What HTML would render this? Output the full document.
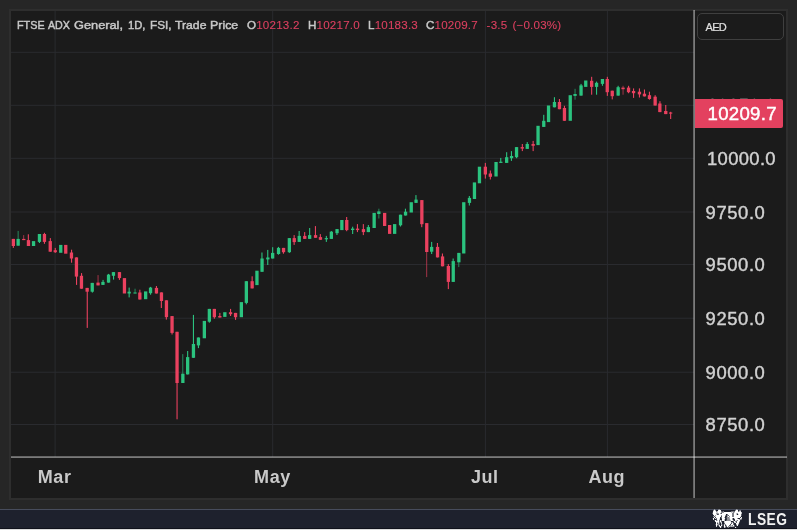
<!DOCTYPE html>
<html lang="en">
<head>
<meta charset="utf-8">
<title>FTSE ADX General</title>
<style>
html,body{margin:0;padding:0;}
body{width:797px;height:530px;overflow:hidden;background:#262626;position:relative;font-family:"Liberation Sans",sans-serif;}
#panel{position:absolute;left:9px;top:9px;width:774.9px;height:486.8px;background:#1b1b1b;border:2.1px solid #2e2e2e;border-bottom-width:2.7px;}
#chart{position:absolute;left:0;top:0;width:797px;height:530px;}
.hdr{position:absolute;top:16.5px;font-size:11.6px;letter-spacing:0.2px;line-height:16px;white-space:nowrap;color:#c8c8c8;-webkit-text-stroke:0.45px currentColor;}
.hdr .v{color:#dc4060;-webkit-text-stroke:0.1px #dc4060;}
.hdr .w{position:absolute;top:0;left:0;letter-spacing:0;transform-origin:0 0;display:block;}
.pl{position:absolute;left:707px;font-size:18.4px;letter-spacing:0.35px;line-height:22px;height:22px;color:#d2d2d2;white-space:nowrap;-webkit-text-stroke:0.4px currentColor;}
.pl.n{left:705.6px;letter-spacing:0.6px;}
#cur{position:absolute;left:694.7px;top:99.4px;width:88.5px;height:28.3px;background:#e3415f;border-radius:0 2px 2px 0;}
#cur span{position:absolute;left:12.8px;top:3.9px;font-size:18.6px;letter-spacing:0.3px;line-height:22px;color:#fff;white-space:nowrap;-webkit-text-stroke:0.45px #fff;}
#aed{position:absolute;left:696.6px;top:13.2px;width:85.2px;height:24.4px;border:1.4px solid #3f3f3f;border-radius:5px;}
#aed span{position:absolute;left:8px;top:6.3px;font-size:11px;letter-spacing:-0.7px;line-height:14px;color:#e0e0e0;-webkit-text-stroke:0.2px currentColor;}
.tl{position:absolute;top:466px;width:80px;margin-left:-40px;text-align:center;font-weight:bold;font-size:18px;letter-spacing:0.6px;line-height:22px;color:#c9c9c9;}
#foot{position:absolute;left:0;top:508.9px;width:797px;height:21px;background:#1e212d;border-top:1.2px solid #474c5c;box-sizing:border-box;}
#footline{position:absolute;left:0;top:527.6px;width:797px;height:3px;background:#dcdcdc;border-top:1.3px solid #10121b;box-sizing:border-box;}
#lseg{position:absolute;left:748.1px;top:509.5px;font-size:16px;line-height:19px;font-weight:bold;color:#f2f2f2;letter-spacing:0.6px;transform:scaleX(0.86);transform-origin:0 0;white-space:nowrap;}
</style>
</head>
<body>
<div id="panel"></div>
<svg id="chart" width="797" height="530" viewBox="0 0 797 530">
<g fill="#2a2b2f">
<rect x="11" y="51.8" width="683" height="1"/>
<rect x="11" y="104.8" width="683" height="1"/>
<rect x="11" y="157.8" width="683" height="1"/>
<rect x="11" y="211.5" width="683" height="1"/>
<rect x="11" y="264" width="683" height="1"/>
<rect x="11" y="317.7" width="683" height="1"/>
<rect x="11" y="371.7" width="683" height="1"/>
<rect x="11" y="424" width="683" height="1"/>
<rect x="54.6" y="11" width="1" height="446"/>
<rect x="272.2" y="11" width="1" height="446"/>
<rect x="484.9" y="11" width="1" height="446"/>
<rect x="606.9" y="11" width="1" height="446"/>
</g>
<g fill="#2bc37f">
<rect x="17.6" y="230.9" width="1.1" height="14.8" opacity="0.6"/>
<rect x="38.9" y="234" width="1.1" height="9"/>
<rect x="91.8" y="282.9" width="1.1" height="9.7"/>
<rect x="102.5" y="279.9" width="1.1" height="5"/>
<rect x="108" y="273.9" width="1.1" height="8.7"/>
<rect x="113" y="272.1" width="1.1" height="7.5"/>
<rect x="128.6" y="287.6" width="1.1" height="9.8"/>
<rect x="134.5" y="288.7" width="1.1" height="4.8" opacity="0.6"/>
<rect x="150" y="286.9" width="1.1" height="7.8"/>
<rect x="182.2" y="354.1" width="1.1" height="28.9" opacity="0.6"/>
<rect x="187.1" y="351" width="1.1" height="23.4"/>
<rect x="192.9" y="314.9" width="1.1" height="42.9"/>
<rect x="197.9" y="337.5" width="1.1" height="10.6"/>
<rect x="208.8" y="308.9" width="1.1" height="13.8"/>
<rect x="245.8" y="281.2" width="1.1" height="23.1"/>
<rect x="261.4" y="252.5" width="1.1" height="19.3"/>
<rect x="267.2" y="249.9" width="1.1" height="15.1"/>
<rect x="272.1" y="247.2" width="1.1" height="11.3"/>
<rect x="277.9" y="246.9" width="1.1" height="7.8"/>
<rect x="288.8" y="238.1" width="1.1" height="14.8"/>
<rect x="298.6" y="231" width="1.1" height="10.9"/>
<rect x="309.1" y="228" width="1.1" height="10.9"/>
<rect x="325.8" y="235.9" width="1.1" height="6"/>
<rect x="330.8" y="231" width="1.1" height="7.9"/>
<rect x="336.4" y="229.1" width="1.1" height="5.9"/>
<rect x="352.1" y="226.7" width="1.1" height="7.3"/>
<rect x="367.8" y="225" width="1.1" height="7.1"/>
<rect x="378.3" y="208.7" width="1.1" height="9.8" opacity="0.6"/>
<rect x="399.9" y="214.7" width="1.1" height="11.8"/>
<rect x="404.9" y="208.7" width="1.1" height="6.8"/>
<rect x="415.4" y="195.1" width="1.1" height="7.8"/>
<rect x="431.1" y="241.9" width="1.1" height="12.1"/>
<rect x="452.6" y="258.5" width="1.1" height="23.4"/>
<rect x="458.2" y="252.9" width="1.1" height="14.2" opacity="0.6"/>
<rect x="468.8" y="196" width="1.1" height="9.5"/>
<rect x="500.2" y="157.9" width="1.1" height="5"/>
<rect x="506.1" y="152.2" width="1.1" height="10.7"/>
<rect x="510.9" y="151.1" width="1.1" height="9.8"/>
<rect x="516" y="147.1" width="1.1" height="11.1"/>
<rect x="526.7" y="142.1" width="1.1" height="6.8"/>
<rect x="543.2" y="114.8" width="1.1" height="12.1"/>
<rect x="553.9" y="97.2" width="1.1" height="10.1"/>
<rect x="574.5" y="88.8" width="1.1" height="10.9" opacity="0.6"/>
<rect x="580.5" y="83.9" width="1.1" height="11.7"/>
<rect x="596" y="81.6" width="1.1" height="13.1"/>
<rect x="601.9" y="79" width="1.1" height="6.8"/>
<rect x="617.6" y="85.8" width="1.1" height="9.8"/>
<rect x="16.5" y="238.9" width="3.3" height="6.8"/>
<rect x="31.9" y="241.1" width="3.3" height="4.9"/>
<rect x="37.8" y="234" width="3.3" height="7.9"/>
<rect x="59.1" y="244.9" width="3.3" height="7.9"/>
<rect x="90.6" y="282.9" width="3.3" height="8.8"/>
<rect x="101.3" y="281.9" width="3.3" height="3"/>
<rect x="106.9" y="274.6" width="3.3" height="8"/>
<rect x="111.8" y="272.1" width="3.3" height="3.7"/>
<rect x="127.5" y="291.7" width="3.3" height="1.8"/>
<rect x="133.4" y="292.5" width="3.3" height="1"/>
<rect x="144" y="291.4" width="3.3" height="7.8"/>
<rect x="148.9" y="287.6" width="3.3" height="5.6"/>
<rect x="181.2" y="373.7" width="3.3" height="9.3"/>
<rect x="186" y="357.1" width="3.3" height="17.3"/>
<rect x="191.8" y="344" width="3.3" height="13.8"/>
<rect x="196.8" y="337.5" width="3.3" height="7.9"/>
<rect x="202.7" y="320.9" width="3.3" height="17.4"/>
<rect x="207.7" y="308.9" width="3.3" height="12.8"/>
<rect x="223.2" y="312.2" width="3.3" height="4.7"/>
<rect x="239.7" y="302.1" width="3.3" height="15.1"/>
<rect x="244.7" y="281.2" width="3.3" height="21.7"/>
<rect x="255.3" y="270.7" width="3.3" height="14.4"/>
<rect x="260.4" y="258.5" width="3.3" height="13.3"/>
<rect x="266.2" y="257.5" width="3.3" height="1.9"/>
<rect x="271" y="252.9" width="3.3" height="5.6"/>
<rect x="276.9" y="247.9" width="3.3" height="6.1"/>
<rect x="287.7" y="238.1" width="3.3" height="14.1"/>
<rect x="297.6" y="235.9" width="3.3" height="6"/>
<rect x="308" y="235.1" width="3.3" height="3.8"/>
<rect x="324.7" y="238.1" width="3.3" height="1.2"/>
<rect x="329.7" y="231.7" width="3.3" height="7.2"/>
<rect x="335.4" y="229.1" width="3.3" height="4.1"/>
<rect x="340.2" y="220" width="3.3" height="10.1"/>
<rect x="351" y="228.6" width="3.3" height="1.4"/>
<rect x="366.7" y="227.1" width="3.3" height="5"/>
<rect x="372.5" y="212.9" width="3.3" height="15.1"/>
<rect x="377.2" y="211.4" width="3.3" height="2.6"/>
<rect x="393" y="224.1" width="3.3" height="9.8"/>
<rect x="398.9" y="214.7" width="3.3" height="10.6"/>
<rect x="403.9" y="211.7" width="3.3" height="3.8"/>
<rect x="409.6" y="202.2" width="3.3" height="10.3"/>
<rect x="414.4" y="199.6" width="3.3" height="3.3"/>
<rect x="430" y="246.9" width="3.3" height="4.8"/>
<rect x="451.6" y="261.1" width="3.3" height="20.8"/>
<rect x="457.2" y="252.9" width="3.3" height="9.4"/>
<rect x="462.1" y="202.2" width="3.3" height="51.3"/>
<rect x="467.8" y="197.9" width="3.3" height="5"/>
<rect x="472.8" y="182.4" width="3.3" height="16.6"/>
<rect x="477.8" y="166.7" width="3.3" height="16.6"/>
<rect x="494.4" y="162" width="3.3" height="14.5"/>
<rect x="499.2" y="161.7" width="3.3" height="1.2"/>
<rect x="505" y="157.2" width="3.3" height="5.7"/>
<rect x="509.9" y="156" width="3.3" height="2.2"/>
<rect x="514.9" y="147.1" width="3.3" height="10.1"/>
<rect x="525.6" y="144" width="3.3" height="4.9"/>
<rect x="536.4" y="125.8" width="3.3" height="19.3"/>
<rect x="542.1" y="120.8" width="3.3" height="6.1"/>
<rect x="546.9" y="105.5" width="3.3" height="16.6"/>
<rect x="552.8" y="102" width="3.3" height="5.3"/>
<rect x="568.6" y="95.2" width="3.3" height="25.6"/>
<rect x="573.4" y="94" width="3.3" height="1.9"/>
<rect x="579.4" y="85.4" width="3.3" height="10.2"/>
<rect x="584.1" y="80.5" width="3.3" height="6.4"/>
<rect x="594.9" y="82.8" width="3.3" height="4.1"/>
<rect x="600.8" y="79" width="3.3" height="4.9"/>
<rect x="616.5" y="87.2" width="3.3" height="8.4"/>
</g>
<g fill="#ea415f">
<rect x="12.8" y="238.9" width="1.1" height="9"/>
<rect x="23.1" y="235.1" width="1.1" height="5" opacity="0.6"/>
<rect x="27.8" y="234.3" width="1.1" height="11.7"/>
<rect x="43.9" y="232.8" width="1.1" height="11"/>
<rect x="49.8" y="238.1" width="1.1" height="13.6"/>
<rect x="54.7" y="247.9" width="1.1" height="5"/>
<rect x="71" y="249.7" width="1.1" height="13"/>
<rect x="76" y="257.4" width="1.1" height="27.5"/>
<rect x="81" y="273.1" width="1.1" height="15.6"/>
<rect x="86.7" y="287.9" width="1.1" height="40"/>
<rect x="97.5" y="275.1" width="1.1" height="10.3" opacity="0.6"/>
<rect x="118.9" y="272.1" width="1.1" height="7.8"/>
<rect x="139.3" y="289.7" width="1.1" height="9.8"/>
<rect x="155.9" y="286" width="1.1" height="7.5"/>
<rect x="160.8" y="292.4" width="1.1" height="15.6"/>
<rect x="165.8" y="300.3" width="1.1" height="19.3"/>
<rect x="171.5" y="316.1" width="1.1" height="18.4"/>
<rect x="176.5" y="331.8" width="1.1" height="87.5"/>
<rect x="213.8" y="308.9" width="1.1" height="9.8"/>
<rect x="219.3" y="312.9" width="1.1" height="4.6"/>
<rect x="230" y="308.9" width="1.1" height="7.1"/>
<rect x="235" y="312.9" width="1.1" height="7"/>
<rect x="251.6" y="276.3" width="1.1" height="12.1"/>
<rect x="282.9" y="247.9" width="1.1" height="5.8"/>
<rect x="293.6" y="235.1" width="1.1" height="9.8"/>
<rect x="304.1" y="232.1" width="1.1" height="6.8"/>
<rect x="314.9" y="226.1" width="1.1" height="11.7"/>
<rect x="319.8" y="234.1" width="1.1" height="5.7"/>
<rect x="346.1" y="217" width="1.1" height="14.2"/>
<rect x="356.9" y="224.1" width="1.1" height="8"/>
<rect x="362.8" y="224.1" width="1.1" height="11"/>
<rect x="421.2" y="200.1" width="1.1" height="27.1"/>
<rect x="426.1" y="223.1" width="1.1" height="54" opacity="0.6"/>
<rect x="436.9" y="243" width="1.1" height="14.4"/>
<rect x="441.9" y="253.5" width="1.1" height="12.8"/>
<rect x="447.8" y="264.1" width="1.1" height="25"/>
<rect x="484.8" y="162.9" width="1.1" height="15.7"/>
<rect x="489.8" y="170.5" width="1.1" height="9"/>
<rect x="521.8" y="144" width="1.1" height="7.1"/>
<rect x="532.6" y="140.9" width="1.1" height="10.2"/>
<rect x="558.9" y="99" width="1.1" height="10.2"/>
<rect x="563.9" y="105.8" width="1.1" height="15"/>
<rect x="591.1" y="76.8" width="1.1" height="17.9"/>
<rect x="606.8" y="76.8" width="1.1" height="19.1"/>
<rect x="611.7" y="90.7" width="1.1" height="8.7"/>
<rect x="622.5" y="85.8" width="1.1" height="8.9" opacity="0.6"/>
<rect x="628" y="85.8" width="1.1" height="7.4"/>
<rect x="633" y="88.4" width="1.1" height="9.5"/>
<rect x="638.9" y="88.4" width="1.1" height="9.1"/>
<rect x="643.9" y="89.5" width="1.1" height="6.9"/>
<rect x="648.9" y="91.7" width="1.1" height="8"/>
<rect x="654.6" y="95.2" width="1.1" height="10.3"/>
<rect x="659.4" y="101.2" width="1.1" height="10.9"/>
<rect x="665.2" y="105" width="1.1" height="9.1"/>
<rect x="670.1" y="111.8" width="1.1" height="7.2"/>
<rect x="11.7" y="238.9" width="3.3" height="7.1"/>
<rect x="22.1" y="238.9" width="3.3" height="1.2"/>
<rect x="26.8" y="240.1" width="3.3" height="5.9"/>
<rect x="42.8" y="234" width="3.3" height="7.9"/>
<rect x="48.6" y="241.1" width="3.3" height="10.6"/>
<rect x="53.6" y="250.2" width="3.3" height="2"/>
<rect x="64.1" y="244.9" width="3.3" height="8.8"/>
<rect x="69.8" y="252.5" width="3.3" height="6"/>
<rect x="74.8" y="257.4" width="3.3" height="19.2"/>
<rect x="79.8" y="275.8" width="3.3" height="12.9"/>
<rect x="85.5" y="287.9" width="3.3" height="3.8"/>
<rect x="96.4" y="282.6" width="3.3" height="2.8"/>
<rect x="117.8" y="272.1" width="3.3" height="6"/>
<rect x="122.8" y="278.1" width="3.3" height="15.4"/>
<rect x="138.2" y="292.5" width="3.3" height="7"/>
<rect x="154.8" y="287.9" width="3.3" height="5.6"/>
<rect x="159.8" y="292.4" width="3.3" height="8.6"/>
<rect x="164.8" y="300.3" width="3.3" height="16.8"/>
<rect x="170.4" y="316.1" width="3.3" height="16.8"/>
<rect x="175.4" y="331.8" width="3.3" height="51.2"/>
<rect x="212.7" y="308.9" width="3.3" height="8.3"/>
<rect x="218.2" y="316" width="3.3" height="1.5"/>
<rect x="228.9" y="312.2" width="3.3" height="2"/>
<rect x="233.9" y="312.9" width="3.3" height="4.3"/>
<rect x="250.5" y="281.2" width="3.3" height="7.2"/>
<rect x="281.9" y="247.9" width="3.3" height="4.3"/>
<rect x="292.6" y="238.1" width="3.3" height="4"/>
<rect x="303.1" y="235.9" width="3.3" height="3"/>
<rect x="313.9" y="235.1" width="3.3" height="2.7"/>
<rect x="318.8" y="237.1" width="3.3" height="2.7"/>
<rect x="345.1" y="220" width="3.3" height="10.1"/>
<rect x="355.9" y="228.6" width="3.3" height="1.5"/>
<rect x="361.8" y="229.1" width="3.3" height="3"/>
<rect x="383" y="212.9" width="3.3" height="13.1"/>
<rect x="388" y="225" width="3.3" height="8.9"/>
<rect x="420.2" y="200.1" width="3.3" height="24.1"/>
<rect x="425.1" y="223.1" width="3.3" height="28.9"/>
<rect x="435.9" y="246.9" width="3.3" height="10.5"/>
<rect x="440.9" y="256.4" width="3.3" height="9.9"/>
<rect x="446.7" y="266" width="3.3" height="15.9"/>
<rect x="483.7" y="166.7" width="3.3" height="7.8"/>
<rect x="488.7" y="173.5" width="3.3" height="3.3"/>
<rect x="520.6" y="147.1" width="3.3" height="1.5"/>
<rect x="531.5" y="144" width="3.3" height="1.8"/>
<rect x="557.8" y="102" width="3.3" height="7.2"/>
<rect x="562.8" y="108" width="3.3" height="12.8"/>
<rect x="590" y="80.8" width="3.3" height="6.1"/>
<rect x="605.6" y="79" width="3.3" height="13.2"/>
<rect x="610.6" y="90.7" width="3.3" height="5.5"/>
<rect x="621.4" y="87.6" width="3.3" height="1.6"/>
<rect x="626.9" y="87.6" width="3.3" height="4.6"/>
<rect x="631.9" y="91" width="3.3" height="2.2"/>
<rect x="637.8" y="91.7" width="3.3" height="2.7"/>
<rect x="642.8" y="93.7" width="3.3" height="2.7"/>
<rect x="647.8" y="95.2" width="3.3" height="3.8"/>
<rect x="653.5" y="96.7" width="3.3" height="8.8"/>
<rect x="658.2" y="103.5" width="3.3" height="8.6"/>
<rect x="664.1" y="111" width="3.3" height="3.1"/>
<rect x="669" y="112.5" width="3.3" height="1.1"/>
</g>
<rect x="693.3" y="10" width="1.6" height="488" fill="#fff" fill-opacity="0.47"/>
<rect x="11" y="456.3" width="776" height="1.6" fill="#fff" fill-opacity="0.47"/>
</svg>
<div class="hdr" style="left:0"><span class="w" style="left:16.6px;transform:scaleX(0.934)">FTSE</span> <span class="w" style="left:48.4px;transform:scaleX(0.920)">ADX</span> <span class="w" style="left:74.3px;transform:scaleX(1.102)">General,</span> <span class="w" style="left:128.1px;transform:scaleX(0.961)">1D,</span> <span class="w" style="left:149.6px;transform:scaleX(1.014)">FSI,</span> <span class="w" style="left:175.2px;transform:scaleX(1.053)">Trade</span> <span class="w" style="left:210.1px;transform:scaleX(1.070)">Price</span></div>
<div class="hdr" style="left:247px">O<span class="v">10213.2</span></div>
<div class="hdr" style="left:308px">H<span class="v">10217.0</span></div>
<div class="hdr" style="left:368px">L<span class="v">10183.3</span></div>
<div class="hdr" style="left:426px">C<span class="v">10209.7</span></div>
<div class="hdr" style="left:486.6px;word-spacing:1.6px"><span class="v">-3.5 (−0.03%)</span></div>
<div id="aed"><span>AED</span></div>
<div class="pl" style="top:95.2px">10250.0</div>
<div class="pl" style="top:148.1px">10000.0</div>
<div class="pl n" style="top:201.8px">9750.0</div>
<div class="pl n" style="top:254.3px">9500.0</div>
<div class="pl n" style="top:307.7px">9250.0</div>
<div class="pl n" style="top:362px">9000.0</div>
<div class="pl n" style="top:414.3px">8750.0</div>
<div id="cur"><span>10209.7</span></div>
<div class="tl" style="left:54.6px">Mar</div>
<div class="tl" style="left:272.5px">May</div>
<div class="tl" style="left:484.8px">Jul</div>
<div class="tl" style="left:606.8px">Aug</div>
<div id="foot"></div>
<div id="footline"></div>
<svg id="crest" style="position:absolute;left:0;top:0" width="797" height="530" viewBox="0 0 797 530"><g fill="#fff">
<rect x="713.91" y="509.6" width="1.25" height="0.4"/>
<rect x="718.47" y="509.6" width="1.45" height="0.4"/>
<rect x="735.91" y="509.6" width="1.66" height="0.4"/>
<rect x="713.49" y="510" width="2.08" height="1"/>
<rect x="718.06" y="510" width="2.91" height="1"/>
<rect x="735.49" y="510" width="2.49" height="1"/>
<rect x="739.64" y="510" width="0.83" height="1"/>
<rect x="713.08" y="511" width="3.32" height="1"/>
<rect x="717.23" y="511" width="4.15" height="1"/>
<rect x="732.58" y="511" width="0.83" height="1"/>
<rect x="734.66" y="511" width="3.74" height="1"/>
<rect x="739.23" y="511" width="1.66" height="1"/>
<rect x="712.87" y="512" width="3.94" height="1"/>
<rect x="717.23" y="512" width="3.74" height="1"/>
<rect x="723.45" y="512" width="8.3" height="1"/>
<rect x="732.17" y="512" width="1.25" height="1"/>
<rect x="734.25" y="512" width="7.47" height="1"/>
<rect x="712.66" y="513" width="3.74" height="1"/>
<rect x="718.47" y="513" width="2.08" height="1"/>
<rect x="721.79" y="513" width="10.38" height="1"/>
<rect x="733.83" y="513" width="2.91" height="1"/>
<rect x="737.98" y="513" width="3.74" height="1"/>
<rect x="713.08" y="514" width="3.74" height="1"/>
<rect x="718.89" y="514" width="7.06" height="1"/>
<rect x="727.6" y="514" width="4.57" height="1"/>
<rect x="733.83" y="514" width="2.91" height="1"/>
<rect x="738.19" y="514" width="3.11" height="1"/>
<rect x="713.91" y="515" width="1.66" height="1"/>
<rect x="715.98" y="515" width="5.4" height="1"/>
<rect x="721.79" y="515" width="3.74" height="1"/>
<rect x="728.85" y="515" width="3.32" height="1"/>
<rect x="733.83" y="515" width="7.47" height="1"/>
<rect x="713.49" y="516" width="0.83" height="1"/>
<rect x="715.15" y="516" width="5.81" height="1"/>
<rect x="721.79" y="516" width="3.32" height="1"/>
<rect x="727.4" y="516" width="1.87" height="1"/>
<rect x="729.68" y="516" width="2.49" height="1"/>
<rect x="733.83" y="516" width="7.06" height="1"/>
<rect x="713.91" y="517" width="1.25" height="1"/>
<rect x="715.98" y="517" width="4.15" height="1"/>
<rect x="721.58" y="517" width="3.11" height="1"/>
<rect x="729.26" y="517" width="10.79" height="1"/>
<rect x="740.89" y="517" width="1.04" height="1"/>
<rect x="712.87" y="518" width="1.25" height="1"/>
<rect x="715.15" y="518" width="1.25" height="1"/>
<rect x="717.02" y="518" width="2.91" height="1"/>
<rect x="721.79" y="518" width="3.32" height="1"/>
<rect x="729.47" y="518" width="3.11" height="1"/>
<rect x="734.25" y="518" width="3.32" height="1"/>
<rect x="740.06" y="518" width="1.66" height="1"/>
<rect x="713.08" y="519" width="0.83" height="1"/>
<rect x="716.81" y="519" width="2.91" height="1"/>
<rect x="722" y="519" width="2.7" height="1"/>
<rect x="730.09" y="519" width="2.49" height="1"/>
<rect x="734.87" y="519" width="4.77" height="1"/>
<rect x="740.47" y="519" width="0.83" height="1"/>
<rect x="714.74" y="520" width="1.66" height="1"/>
<rect x="717.23" y="520" width="2.08" height="1"/>
<rect x="720.13" y="520" width="1.25" height="1"/>
<rect x="722" y="520" width="2.7" height="1"/>
<rect x="730.51" y="520" width="2.91" height="1"/>
<rect x="735.08" y="520" width="1.66" height="1"/>
<rect x="737.57" y="520" width="2.49" height="1"/>
<rect x="715.15" y="521" width="4.15" height="1"/>
<rect x="719.92" y="521" width="1.45" height="1"/>
<rect x="724.28" y="521" width="6.64" height="1"/>
<rect x="733.62" y="521" width="1.87" height="1"/>
<rect x="736.74" y="521" width="2.91" height="1"/>
<rect x="715.98" y="522" width="1.66" height="1"/>
<rect x="718.06" y="522" width="1.25" height="1"/>
<rect x="720.55" y="522" width="1.25" height="1"/>
<rect x="724.28" y="522" width="7.06" height="1"/>
<rect x="731.75" y="522" width="0.83" height="1"/>
<rect x="734.25" y="522" width="1.66" height="1"/>
<rect x="736.74" y="522" width="2.49" height="1"/>
<rect x="715.98" y="523" width="1.25" height="1"/>
<rect x="718.26" y="523" width="1.04" height="1"/>
<rect x="720.96" y="523" width="0.83" height="1"/>
<rect x="724.7" y="523" width="6.23" height="1"/>
<rect x="731.75" y="523" width="1.66" height="1"/>
<rect x="735.91" y="523" width="2.91" height="1"/>
<rect x="715.77" y="524" width="1.87" height="1"/>
<rect x="718.47" y="524" width="0.83" height="1"/>
<rect x="721.38" y="524" width="0.83" height="1"/>
<rect x="723.87" y="524" width="0.83" height="1"/>
<rect x="725.53" y="524" width="4.57" height="1"/>
<rect x="730.92" y="524" width="2.49" height="1"/>
<rect x="736.32" y="524" width="2.08" height="1"/>
<rect x="715.98" y="525" width="1.25" height="1"/>
<rect x="718.68" y="525" width="1.25" height="1"/>
<rect x="720.96" y="525" width="1.25" height="1"/>
<rect x="723.87" y="525" width="1.25" height="1"/>
<rect x="726.36" y="525" width="2.91" height="1"/>
<rect x="730.51" y="525" width="1.25" height="1"/>
<rect x="732.58" y="525" width="1.66" height="1"/>
<rect x="736.74" y="525" width="1.25" height="1"/>
<rect x="716.19" y="526" width="0.83" height="1"/>
<rect x="719.3" y="526" width="2.08" height="1"/>
<rect x="723.87" y="526" width="1.66" height="1"/>
<rect x="726.77" y="526" width="1.66" height="1"/>
<rect x="729.26" y="526" width="1.25" height="1"/>
<rect x="731.34" y="526" width="1.25" height="1"/>
<rect x="733.42" y="526" width="0.83" height="1"/>
<rect x="720.13" y="527" width="1.04" height="1"/>
<rect x="724.28" y="527" width="1.04" height="1"/>
<rect x="735.08" y="527" width="1.04" height="1"/>
</g><g fill="#fff" fill-opacity="0.5">
<rect x="722.62" y="511" width="1.25" height="1"/>
<rect x="730.92" y="511" width="0.83" height="1"/>
<rect x="720.96" y="512" width="2.08" height="1"/>
<rect x="716.4" y="513" width="2.08" height="1"/>
<rect x="732.38" y="513" width="1.25" height="1"/>
<rect x="736.94" y="513" width="1.04" height="1"/>
<rect x="717.64" y="514" width="0.83" height="1"/>
<rect x="732.38" y="514" width="1.25" height="1"/>
<rect x="732.38" y="515" width="1.25" height="1"/>
<rect x="726.77" y="515" width="1.66" height="1"/>
<rect x="732.38" y="516" width="1.25" height="1"/>
<rect x="726.57" y="517" width="2.28" height="1"/>
<rect x="726.77" y="518" width="2.49" height="1"/>
<rect x="726.77" y="519" width="3.32" height="1"/>
<rect x="726.36" y="520" width="4.15" height="1"/>
<rect x="727.6" y="527" width="1.25" height="1"/>
</g></svg>
<div id="lseg">LSEG</div>
</body>
</html>
